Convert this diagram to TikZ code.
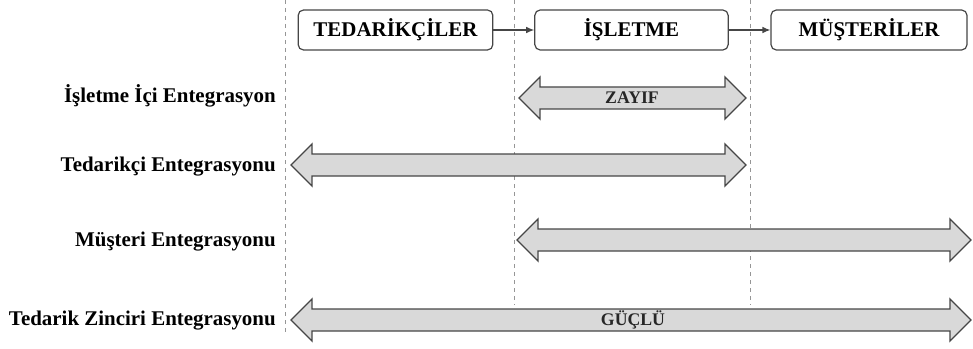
\documentclass[tikz,border=0pt]{standalone}
\usepackage{fontspec}
\setmainfont{Liberation Serif}
\usetikzlibrary{calc}
\usetikzlibrary{arrows.meta}
\definecolor{edgegray}{RGB}{70,70,70}
\definecolor{bodygray}{RGB}{217,217,217}
\definecolor{guidegray}{RGB}{150,150,150}

\begin{document}
\begin{tikzpicture}[x=0.75pt, y=-0.75pt,
  party/.style={draw=edgegray, line width=0.9pt, rounded corners=4pt, fill=white,
    minimum height=30pt, font=\fontsize{15.7}{18}\selectfont\bfseries},
  rowlabel/.style={anchor=east, inner sep=0pt, font=\fontsize{15.7}{18}\selectfont\bfseries},
  strength/.style={inner sep=0pt, text=black!85, font=\fontsize{13.3}{15}\selectfont\bfseries},
  intarrow/.style={draw=edgegray, line width=1pt, fill=bodygray, line join=miter},
  flow/.style={draw=edgegray, line width=0.9pt, -{Latex[length=6pt, width=5pt]}},
  guide/.style={draw=guidegray, dashed, line width=0.6pt}]

\useasboundingbox (0,0) rectangle (973,349);

% guide lines
\draw[guide] (285,0) -- (285,335);
\draw[guide] (514,0) -- (514,305);
\draw[guide] (750,0) -- (750,305);

% parties
\node[party, minimum width=146pt] (ted) at (395.5,30) {TEDARİKÇİLER};
\node[party, minimum width=145pt] (isl) at (631.5,30) {İŞLETME};
\node[party, minimum width=147pt] (mus) at (869,30) {MÜŞTERİLER};

\draw[flow] (ted) -- (isl);
\draw[flow] (isl) -- (mus);

% row labels
\node[rowlabel] (icLbl) at (276,96) {İşletme İçi Entegrasyon};
\node[rowlabel] (tedLbl) at (276,167) {Tedarikçi Entegrasyonu};
\node[rowlabel] (musLbl) at (276,242) {Müşteri Entegrasyonu};
\node[rowlabel] (zinLbl) at (276,321) {Tedarik Zinciri Entegrasyonu};

% integration arrows
\draw[intarrow] (519,98) -- ++(21,-21) -- ++(0,10) -- (725,87) -- ++(0,-10) -- (746,98)
  -- ++(-21,21) -- ++(0,-10) -- (540,109) -- ++(0,10) -- cycle;
\node[strength] (zayif) at (632,98) {ZAYIF};

\draw[intarrow] (291,165) -- ++(21,-21) -- ++(0,10) -- (725,154) -- ++(0,-10) -- (746,165)
  -- ++(-21,21) -- ++(0,-10) -- (312,176) -- ++(0,10) -- cycle;

\draw[intarrow] (517,240) -- ++(21,-21) -- ++(0,10) -- (950,229) -- ++(0,-10) -- (971,240)
  -- ++(-21,21) -- ++(0,-10) -- (538,251) -- ++(0,10) -- cycle;

\draw[intarrow] (291,320) -- ++(21,-21) -- ++(0,10) -- (950,309) -- ++(0,-10) -- (971,320)
  -- ++(-21,21) -- ++(0,-10) -- (312,331) -- ++(0,10) -- cycle;
\node[strength] (guclu) at (633,320) {GÜÇLÜ};

\end{tikzpicture}
\end{document}
